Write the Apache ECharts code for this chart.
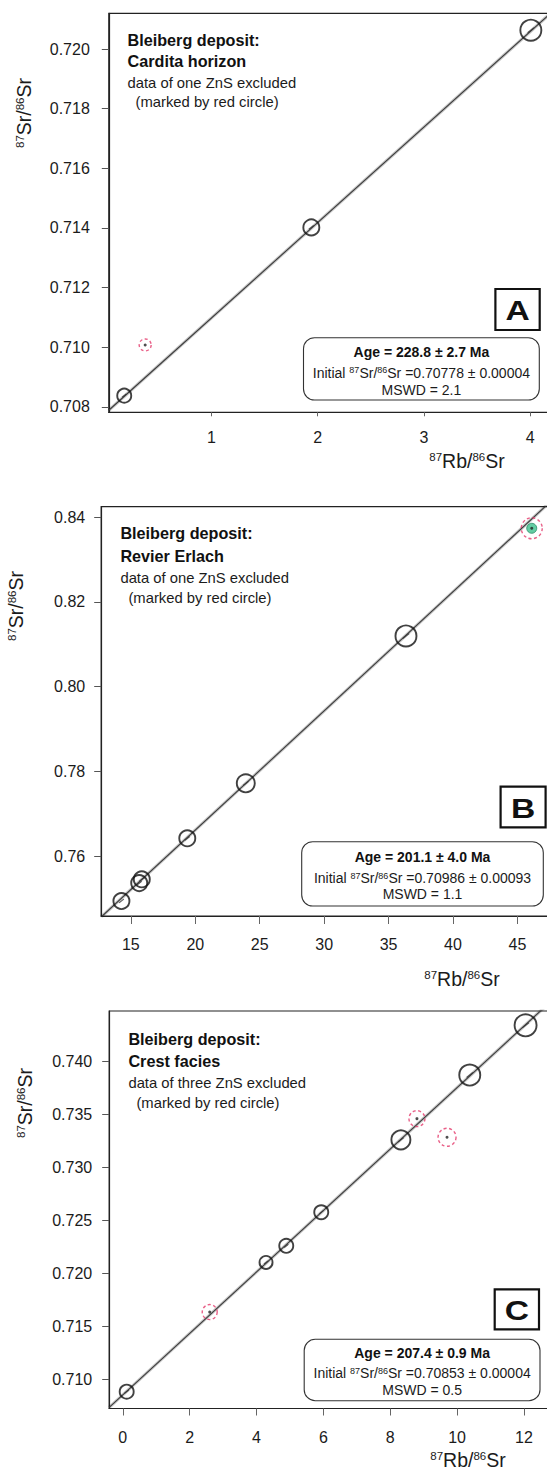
<!DOCTYPE html>
<html>
<head>
<meta charset="utf-8">
<title>Bleiberg deposit Rb–Sr isochrons</title>
<script src="https://cdn.jsdelivr.net/npm/echarts@6/dist/echarts.min.js"></script>
<style>
  html, body { margin: 0; padding: 0; background: #ffffff; }
  #chart { width: 547px; height: 1472px; }
</style>
</head>
<body>
<div id="chart"></div>
<script>
// 87Rb decay constant, per year
const LAMBDA_RB = 1.3972e-11;

// ---- Panel A: Cardita horizon ----
const rbA = [0.18, 1.94, 4.005];
const srA = [0.70838, 0.71402, 0.72063];
const rbExclA = [0.377];
const srExclA = [0.71008];
const ageA = 228.8, ageErrA = 2.7, initA = 0.70778, initErrA = 0.00004, mswdA = 2.1;
const xTicksA = [1, 2, 3, 4];
const yTicksA = [0.708, 0.710, 0.712, 0.714, 0.716, 0.718, 0.720];

// ---- Panel B: Revier Erlach ----
const rbB = [14.27, 15.65, 15.85, 19.38, 23.92, 36.35];
const srB = [0.74937, 0.75360, 0.75450, 0.76418, 0.77717, 0.81197];
const rbExclB = [46.11];
const srExclB = [0.8374];
const ageB = 201.1, ageErrB = 4.0, initB = 0.70986, initErrB = 0.00093, mswdB = 1.1;
const xTicksB = [15, 20, 25, 30, 35, 40, 45];
const yTicksB = [0.76, 0.78, 0.80, 0.82, 0.84];

// ---- Panel C: Crest facies ----
const rbC = [0.116, 4.285, 4.89, 5.937, 8.32, 10.38, 12.05];
const srC = [0.70883, 0.72104, 0.72261, 0.72578, 0.73262, 0.73874, 0.74344];
const rbExclC = [2.60, 8.80, 9.70];
const srExclC = [0.71635, 0.73462, 0.73286];
const ageC = 207.4, ageErrC = 0.9, initC = 0.70853, initErrC = 0.00004, mswdC = 0.5;
const xTicksC = [0, 2, 4, 6, 8, 10, 12];
const yTicksC = [0.710, 0.715, 0.720, 0.725, 0.730, 0.735, 0.740];

// ---- ellipse ring diameters (px) ----
const ringA = [14, 16, 21];
const ringExclA = [12];
const ringB = [16, 16, 16, 16, 18, 21];
const ringExclB = [21];
const ringC = [14, 13, 14, 14, 19, 21, 22];
const ringExclC = [15, 16, 18];

const FONT = '"Liberation Sans", Arial, Helvetica, sans-serif';
const INK = '#1b1b1b';
const RED = '#e3386a';

const panels = [
  {
    rb: rbA, sr: srA, ring: ringA, rbX: rbExclA, srX: srExclA, ringX: ringExclA,
    age: ageA, ageErr: ageErrA, init: initA, initErr: initErrA, mswd: mswdA,
    xTicks: xTicksA, yTicks: yTicksA, yDigits: 3, xDigits: 0,
    grid: { left: 108.8, top: 13.3, width: 448.2, height: 399 },
    xRange: [0.0348, 4.251], yRange: [0.707822, 0.721197],
    xTickLen: 4, xMargin: 17, yMargin: 19,
    title: ['Bleiberg deposit:', 'Cardita horizon'],
    note: ['data of one ZnS excluded', '(marked by red circle)'],
    textX: 127.5, textY: [39.5, 61, 82.5, 102], noteIndent: 8,
    letter: 'A', letterBox: [495.4, 289, 44.3, 41],
    isoBox: [303.5, 337.7, 235.8, 62.3], isoY: [352, 372.5, 389.5],
    yTitle: [24, 113], xTitle: [467, 461],
    exclFill: null
  },
  {
    rb: rbB, sr: srB, ring: ringB, rbX: rbExclB, srX: srExclB, ringX: ringExclB,
    age: ageB, ageErr: ageErrB, init: initB, initErr: initErrB, mswd: mswdB,
    xTicks: xTicksB, yTicks: yTicksB, yDigits: 2, xDigits: 0,
    grid: { left: 101.2, top: 506.7, width: 455.8, height: 409.3 },
    xRange: [12.7, 48.07], yRange: [0.74583, 0.8425],
    xTickLen: 8, xMargin: 20, yMargin: 16,
    title: ['Bleiberg deposit:', 'Revier Erlach'],
    note: ['data of one ZnS excluded', '(marked by red circle)'],
    textX: 120.4, textY: [532.7, 556, 578.3, 598.3], noteIndent: 8,
    letter: 'B', letterBox: [500.6, 786.7, 45, 40.6],
    isoBox: [301.7, 841.7, 241.6, 64.3], isoY: [856.7, 878, 894],
    yTitle: [16, 606], xTitle: [462, 979],
    exclFill: '#3dbf8c'
  },
  {
    rb: rbC, sr: srC, ring: ringC, rbX: rbExclC, srX: srExclC, ringX: ringExclC,
    age: ageC, ageErr: ageErrC, init: initC, initErr: initErrC, mswd: mswdC,
    xTicks: xTicksC, yTicks: yTicksC, yDigits: 3, xDigits: 0,
    grid: { left: 109.2, top: 1011, width: 447.8, height: 397.5 },
    xRange: [-0.407, 12.99], yRange: [0.707242, 0.744789],
    xTickLen: 7, xMargin: 21, yMargin: 17,
    title: ['Bleiberg deposit:', 'Crest facies'],
    note: ['data of three ZnS excluded', '(marked by red circle)'],
    textX: 128.4, textY: [1039.3, 1061, 1082.7, 1102.7], noteIndent: 8,
    letter: 'C', letterBox: [494.7, 1289.3, 44.3, 40],
    isoBox: [304.2, 1339.3, 235.8, 61.4], isoY: [1352.7, 1373.3, 1389.5],
    yTitle: [25, 1103], xTitle: [468, 1460],
    exclFill: null
  }
];

function zip(xs, ys) { return xs.map((x, i) => [x, ys[i]]); }

// isochron: 87Sr/86Sr = initial + (e^{λt} − 1) · 87Rb/86Sr
function isochron(p) {
  const slope = Math.expm1(LAMBDA_RB * p.age * 1e6);
  return [p.xRange[0], p.xRange[1]].map(x => [x, p.init + slope * x]);
}

const grids = [], xAxes = [], yAxes = [], series = [], graphics = [];

const supRich = (main, sup, weight) => ({
  n: { fontSize: main, fontFamily: FONT, fontWeight: weight || 'normal', fill: INK, color: INK, lineHeight: main, verticalAlign: 'bottom' },
  s: { fontSize: sup, fontFamily: FONT, fill: INK, color: INK, lineHeight: main, verticalAlign: 'top' }
});

panels.forEach((p, i) => {
  grids.push(Object.assign({
    show: true, borderColor: '#222', borderWidth: 1.2, backgroundColor: 'transparent',
    containLabel: false, outerBoundsMode: 'none'
  }, p.grid));

  xAxes.push({
    gridIndex: i, type: 'value', min: p.xRange[0], max: p.xRange[1],
    axisLine: { show: true, onZero: false, lineStyle: { color: '#222', width: 1.2 } },
    axisTick: { show: true, customValues: p.xTicks, length: p.xTickLen, lineStyle: { color: '#666', width: 1 } },
    axisLabel: { customValues: p.xTicks, margin: p.xMargin, fontSize: 16, color: INK, fontFamily: FONT,
      formatter: v => Number(v).toFixed(p.xDigits) },
    splitLine: { show: false }
  });
  yAxes.push({
    gridIndex: i, type: 'value', min: p.yRange[0], max: p.yRange[1],
    axisLine: { show: true, onZero: false, lineStyle: { color: '#222', width: 1.2 } },
    axisTick: { show: true, customValues: p.yTicks, length: 7, lineStyle: { color: '#555', width: 1 } },
    axisLabel: { customValues: p.yTicks, margin: p.yMargin, fontSize: 16, color: INK, fontFamily: FONT,
      formatter: v => Number(v).toFixed(p.yDigits) },
    splitLine: { show: false }
  });

  const line = isochron(p);
  // error envelope of the regression, then the regression line itself
  series.push({
    type: 'line', xAxisIndex: i, yAxisIndex: i, data: line, showSymbol: false, silent: true,
    lineStyle: { color: 'rgba(0,0,0,0.22)', width: 3.2 }, z: 2
  });
  series.push({
    type: 'line', xAxisIndex: i, yAxisIndex: i, data: line, showSymbol: false, silent: true,
    lineStyle: { color: '#3a3a3a', width: 1.1 }, z: 3
  });

  // analyses used in the regression: error ellipse ring with inner error bar
  const pts = zip(p.rb, p.sr);
  series.push({
    type: 'scatter', xAxisIndex: i, yAxisIndex: i, data: pts, symbol: 'circle',
    symbolSize: (v, prm) => p.ring[prm.dataIndex],
    itemStyle: { color: 'rgba(0,0,0,0)', borderColor: '#111', borderWidth: 1.9 }, z: 5
  });
  series.push({
    type: 'scatter', xAxisIndex: i, yAxisIndex: i, data: pts, symbol: 'rect',
    symbolSize: (v, prm) => [Math.max(4, p.ring[prm.dataIndex] * 0.38), 1.2], symbolRotate: 38,
    itemStyle: { color: '#333' }, z: 6
  });

  // excluded analyses: dashed red ring
  const excl = zip(p.rbX, p.srX);
  if (p.exclFill) {
    series.push({
      type: 'scatter', xAxisIndex: i, yAxisIndex: i, data: excl, symbol: 'circle', symbolSize: 10,
      itemStyle: { color: p.exclFill, borderColor: '#2a8c66', borderWidth: 1 }, z: 5
    });
  }
  series.push({
    type: 'scatter', xAxisIndex: i, yAxisIndex: i, data: excl, symbol: 'circle',
    symbolSize: (v, prm) => p.ringX[prm.dataIndex],
    itemStyle: { color: 'rgba(0,0,0,0)', borderColor: RED, borderWidth: 1.4, borderType: [3, 2.5] }, z: 6
  });
  series.push({
    type: 'scatter', xAxisIndex: i, yAxisIndex: i, data: excl, symbol: 'circle', symbolSize: 3,
    itemStyle: { color: '#222' }, z: 7
  });

  // caption in the upper left
  p.title.forEach((t, k) => graphics.push({
    type: 'text', x: p.textX, y: p.textY[k],
    style: { text: t, font: 'bold 16.2px ' + FONT, fill: '#111', align: 'left', verticalAlign: 'middle', textAlign: 'left', textVerticalAlign: 'middle' }
  }));
  p.note.forEach((t, k) => graphics.push({
    type: 'text', x: p.textX + (k === 1 ? p.noteIndent : 0), y: p.textY[2 + k],
    style: { text: t, font: '14.8px ' + FONT, fill: INK, align: 'left', verticalAlign: 'middle', textAlign: 'left', textVerticalAlign: 'middle' }
  }));

  // panel letter
  const lb = p.letterBox;
  graphics.push({
    type: 'rect', shape: { x: lb[0], y: lb[1], width: lb[2], height: lb[3] },
    style: { fill: '#fff', stroke: '#111', lineWidth: 2.2 }
  });
  graphics.push({
    type: 'text', x: lb[0] + lb[2] / 2, y: lb[1] + lb[3] / 2 + 1, scaleX: 1.2,
    style: { text: p.letter, font: 'bold 28px ' + FONT, fill: '#111', align: 'center', verticalAlign: 'middle', textAlign: 'center', textVerticalAlign: 'middle' }
  });

  // isochron result box
  const ib = p.isoBox, cx = ib[0] + ib[2] / 2;
  graphics.push({
    type: 'rect', shape: { x: ib[0], y: ib[1], width: ib[2], height: ib[3], r: 11 },
    style: { fill: '#fff', stroke: '#333', lineWidth: 1.1 }
  });
  graphics.push({
    type: 'text', x: cx, y: p.isoY[0],
    style: { text: 'Age = ' + p.age.toFixed(1) + ' ± ' + p.ageErr.toFixed(1) + ' Ma', font: 'bold 14px ' + FONT, fill: '#111',
      align: 'center', verticalAlign: 'middle', textAlign: 'center', textVerticalAlign: 'middle' }
  });
  graphics.push({
    type: 'text', x: cx, y: p.isoY[1],
    style: {
      text: '{n|Initial }{s|87}{n|Sr/}{s|86}{n|Sr =' + p.init.toFixed(5) + ' ± ' + p.initErr.toFixed(5) + '}',
      rich: supRich(14, 9), align: 'center', verticalAlign: 'middle', textAlign: 'center', textVerticalAlign: 'middle'
    }
  });
  graphics.push({
    type: 'text', x: cx, y: p.isoY[2],
    style: { text: 'MSWD = ' + p.mswd.toFixed(1), font: '14px ' + FONT, fill: INK,
      align: 'center', verticalAlign: 'middle', textAlign: 'center', textVerticalAlign: 'middle' }
  });

  // axis titles
  graphics.push({
    type: 'text', x: p.yTitle[0], y: p.yTitle[1], rotation: Math.PI / 2,
    style: { text: '{s|87}{n|Sr/}{s|86}{n|Sr}', rich: supRich(19.5, 11.5),
      align: 'center', verticalAlign: 'middle', textAlign: 'center', textVerticalAlign: 'middle' }
  });
  graphics.push({
    type: 'text', x: p.xTitle[0], y: p.xTitle[1],
    style: { text: '{s|87}{n|Rb/}{s|86}{n|Sr}', rich: supRich(19.5, 11.5),
      align: 'center', verticalAlign: 'middle', textAlign: 'center', textVerticalAlign: 'middle' }
  });
});

const chart = echarts.init(document.getElementById('chart'), null, { renderer: 'svg' });
chart.setOption({
  animation: false,
  backgroundColor: '#ffffff',
  grid: grids,
  xAxis: xAxes,
  yAxis: yAxes,
  series: series,
  graphic: { elements: graphics }
});
</script>
</body>
</html>
